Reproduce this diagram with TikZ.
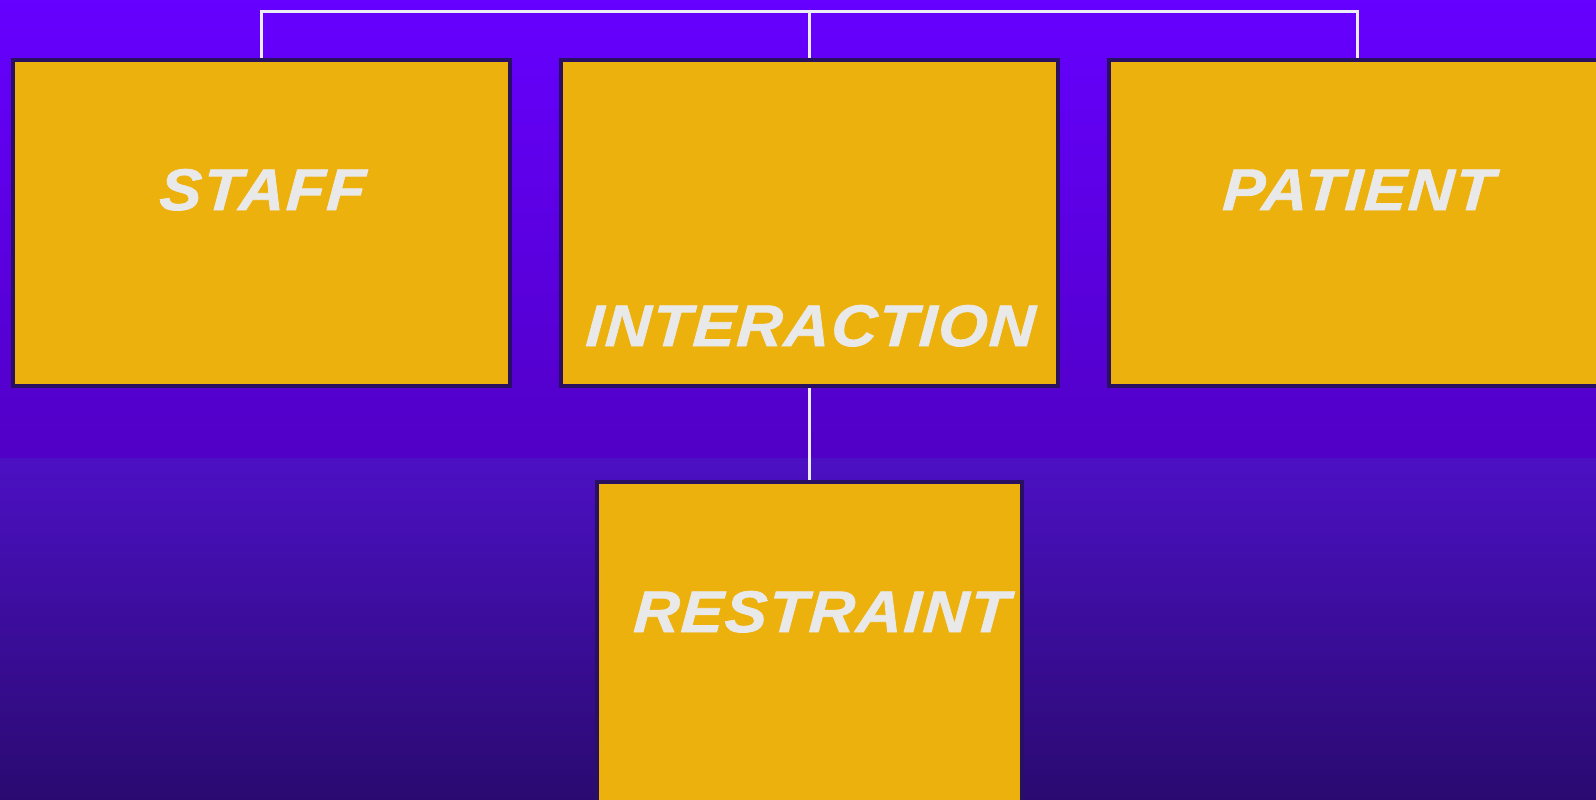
\documentclass[tikz,border=0pt]{standalone}
\usepackage{fontspec}
\setmainfont{Liberation Sans}
\newfontfamily\boxfont[LetterSpace=3, FakeStretch=1.075, FakeBold=1.2, FakeSlant=0.06]{Liberation Sans}
\usepackage{tikz}
\usepackage{xcolor}
\usetikzlibrary{positioning}
\definecolor{cTop}{HTML}{6600FF}
\definecolor{cMid}{HTML}{5100C6}
\definecolor{cLow}{HTML}{4C10C4}
\definecolor{cBot}{HTML}{2A0A70}
\definecolor{cGold}{HTML}{EDB10D}
\definecolor{cEdge}{HTML}{2A1060}
\definecolor{cText}{HTML}{E9E9E9}
\definecolor{cLink}{HTML}{ECECF6}
\tikzset{
	box/.style ={rectangle, draw=cEdge, line width=4pt, fill=cGold, inner sep=0pt, minimum width=497pt, minimum height=326pt, text=cText, font=\boxfont\bfseries\itshape\fontsize{58.7}{60}\selectfont, text height=150pt, text depth=176pt},
	link/.style={draw=cLink, line width=3pt},
}
\begin{document}
\begin{tikzpicture}[x=1pt, y=-1pt]
	\useasboundingbox (0,0) rectangle (1596,800);
	% background, two bands
	\shade[top color=cTop, bottom color=cMid] (0,0) rectangle (1596,458);
	\shade[top color=cLow, bottom color=cBot] (0,458) rectangle (1596,800);
	\node[box] (staff) at (261.5,223) {STAFF};
	\node[box, right=47pt of staff, text height=286pt, text depth=40pt] (interaction) {INTERACTION};
	\node[box, right=47pt of interaction] (patient) {PATIENT};
	\node[box, below=92pt of interaction, minimum width=425pt] (restraint) {\hspace*{22pt}RESTRAINT};
	\coordinate (top) at (808,12);
	\draw[link] (staff.north) |- (top) -| (patient.north);
	\draw[link] (interaction.north) -- (interaction.north |- top);
	\draw[link] (interaction.south) -- (restraint.north);
\end{tikzpicture}
\end{document}
